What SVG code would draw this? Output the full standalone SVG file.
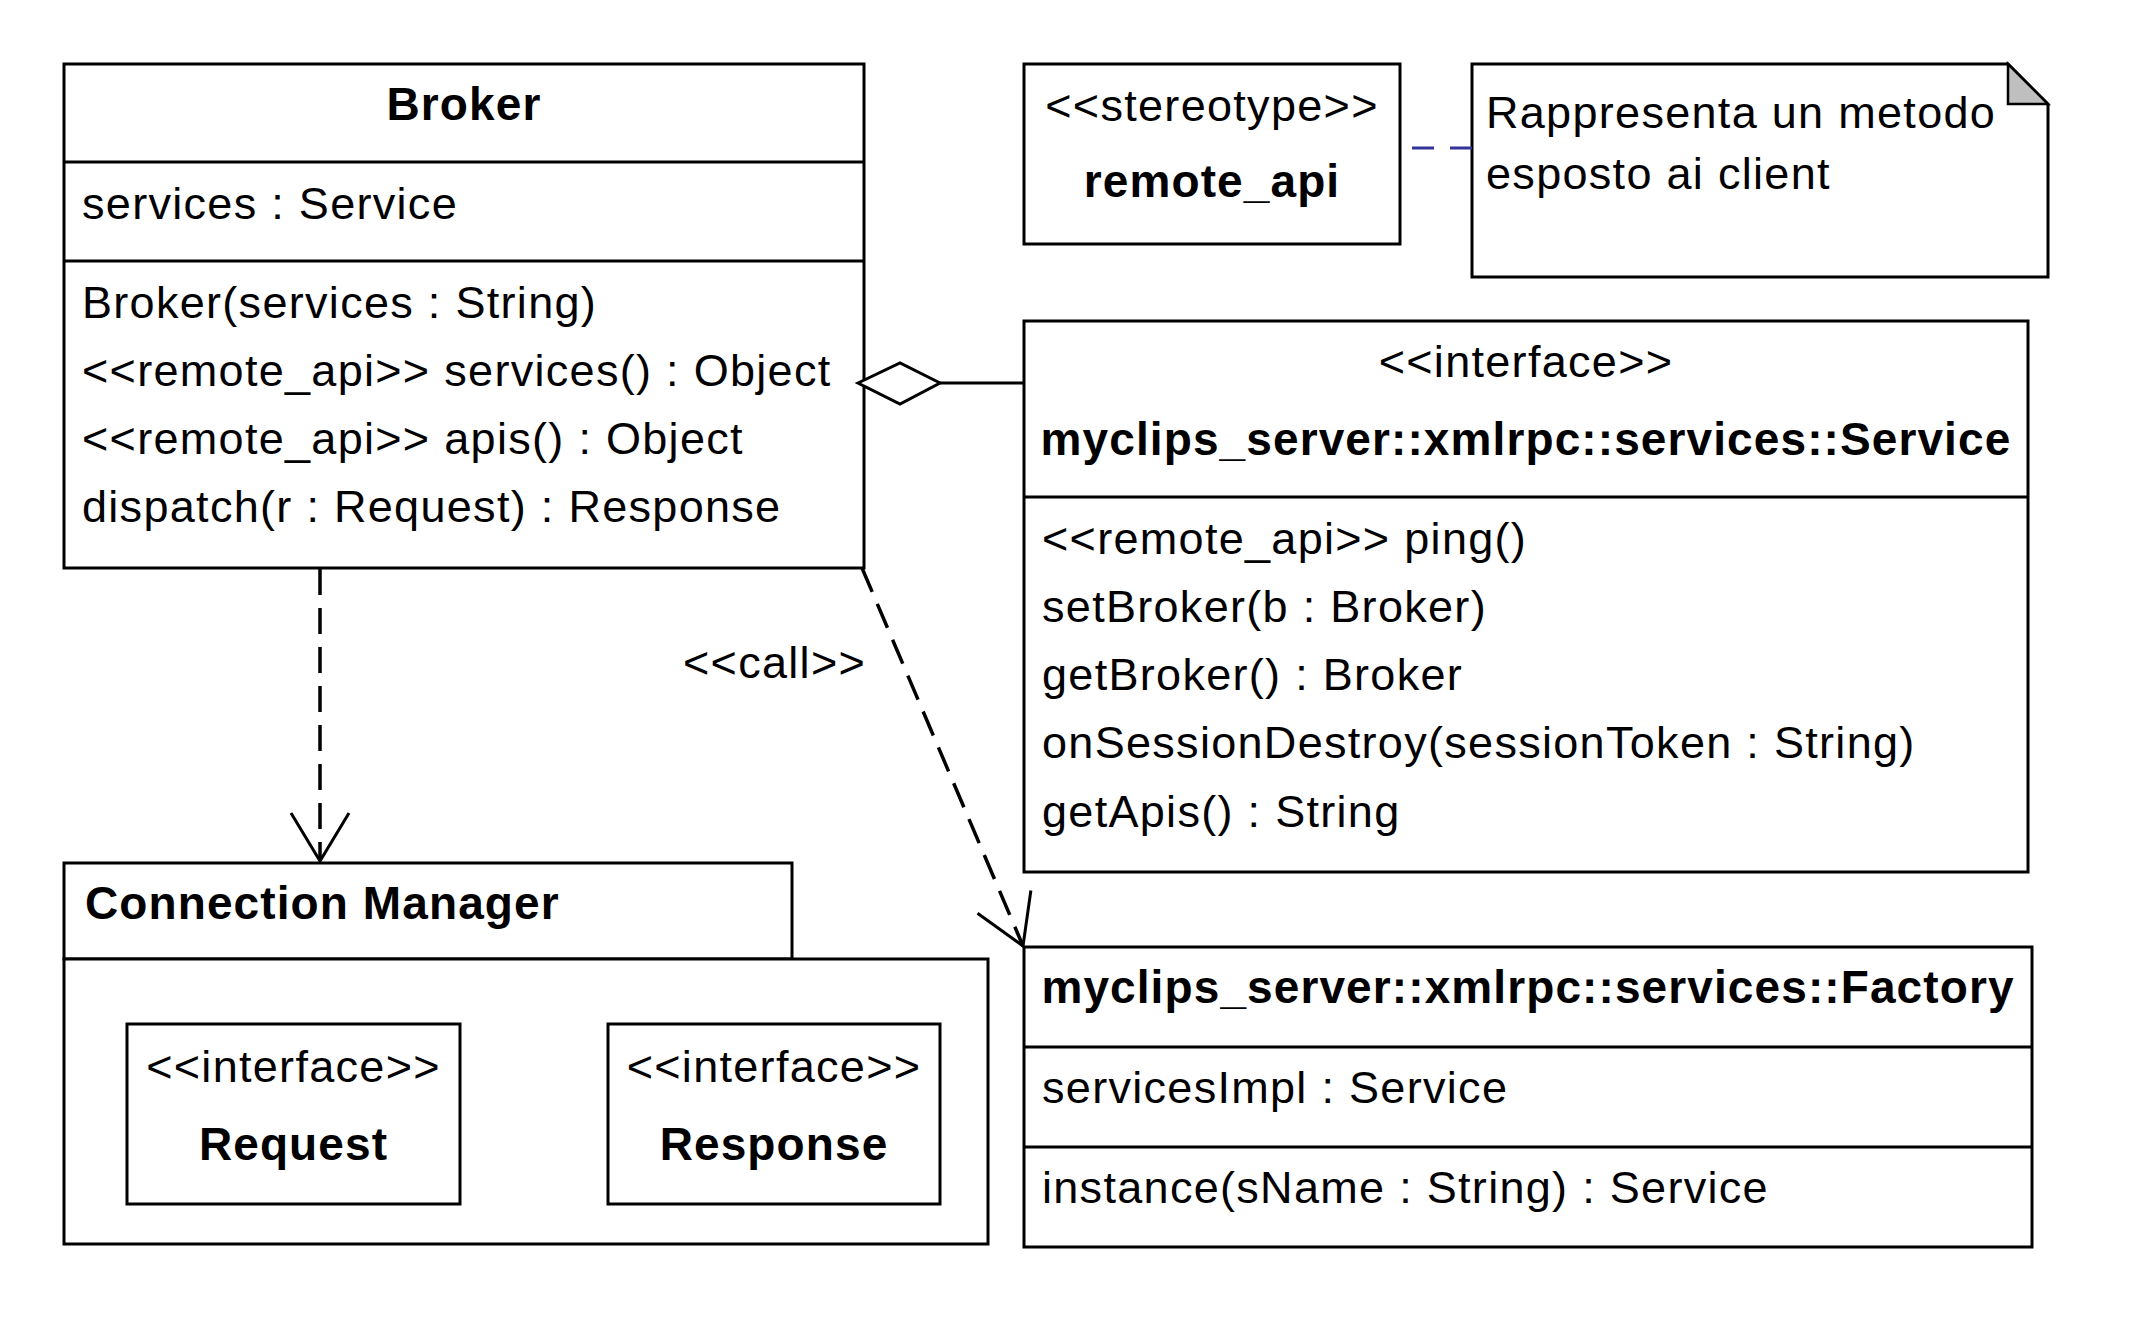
<svg xmlns="http://www.w3.org/2000/svg" width="2140" height="1336" viewBox="0 0 2140 1336">
<style>
  .box { fill: #ffffff; stroke: #000000; stroke-width: 3; }
  .div { stroke: #000000; stroke-width: 3; fill: none; }
  .t { font-family: "Liberation Sans", Arial, sans-serif; font-size: 45px; letter-spacing: 1.3px; fill: #000000; }
  .b { font-family: "Liberation Sans", Arial, sans-serif; font-size: 46px; font-weight: bold; letter-spacing: 1.1px; fill: #000000; }
  .c { text-anchor: middle; }
  .dash { stroke: #000000; stroke-width: 3.5; fill: none; stroke-dasharray: 26 13; }
  .solid { stroke: #000000; stroke-width: 3; fill: none; }
</style>
<defs>
  <marker id="open" markerUnits="userSpaceOnUse" orient="auto" refX="0" refY="0" markerWidth="60" markerHeight="70" viewBox="-55 -35 60 70" overflow="visible">
    <path d="M-48,-29 L0,0 L-48,29" fill="none" stroke="#000000" stroke-width="3" stroke-dasharray="none"/>
  </marker>
</defs>
<rect x="0" y="0" width="2140" height="1336" fill="#ffffff"/>

<g id="broker">
  <rect class="box" x="64" y="64" width="800" height="504"/>
  <line class="div" x1="64" y1="162" x2="864" y2="162"/>
  <line class="div" x1="64" y1="261" x2="864" y2="261"/>
  <text class="b c" x="464" y="120">Broker</text>
  <text class="t" x="82" y="219">services : Service</text>
  <text class="t" x="82" y="318">Broker(services : String)</text>
  <text class="t" x="82" y="386">&lt;&lt;remote_api&gt;&gt; services() : Object</text>
  <text class="t" x="82" y="454">&lt;&lt;remote_api&gt;&gt; apis() : Object</text>
  <text class="t" x="82" y="522">dispatch(r : Request) : Response</text>
</g>

<g id="stereotype-remote_api">
  <rect class="box" x="1024" y="64" width="376" height="180"/>
  <text class="t c" x="1212" y="121">&lt;&lt;stereotype&gt;&gt;</text>
  <text class="b c" x="1212" y="197">remote_api</text>
</g>

<g id="note">
  <path class="box" d="M1472,64 L2008,64 L2048,104 L2048,277 L1472,277 Z"/>
  <path d="M2008,64 L2048,104 L2008,104 Z" fill="#bfbfbf" stroke="#000000" stroke-width="2.5" stroke-linejoin="miter"/>
  <text class="t" x="1486" y="128">Rappresenta un metodo</text>
  <text class="t" x="1486" y="189">esposto ai client</text>
</g>

<g id="service">
  <rect class="box" x="1024" y="321" width="1004" height="551"/>
  <line class="div" x1="1024" y1="497" x2="2028" y2="497"/>
  <text class="t c" x="1526" y="377">&lt;&lt;interface&gt;&gt;</text>
  <text class="b c" x="1526" y="455">myclips_server::xmlrpc::services::Service</text>
  <text class="t" x="1042" y="554">&lt;&lt;remote_api&gt;&gt; ping()</text>
  <text class="t" x="1042" y="622">setBroker(b : Broker)</text>
  <text class="t" x="1042" y="690">getBroker() : Broker</text>
  <text class="t" x="1042" y="758">onSessionDestroy(sessionToken : String)</text>
  <text class="t" x="1042" y="827">getApis() : String</text>
</g>

<g id="factory">
  <rect class="box" x="1024" y="947" width="1008" height="300"/>
  <line class="div" x1="1024" y1="1047" x2="2032" y2="1047"/>
  <line class="div" x1="1024" y1="1147" x2="2032" y2="1147"/>
  <text class="b c" x="1528" y="1003">myclips_server::xmlrpc::services::Factory</text>
  <text class="t" x="1042" y="1103">servicesImpl : Service</text>
  <text class="t" x="1042" y="1203">instance(sName : String) : Service</text>
</g>

<g id="connection-manager">
  <rect class="box" x="64" y="863" width="728" height="96"/>
  <rect class="box" x="64" y="959" width="924" height="285"/>
  <text class="b" x="85" y="919">Connection Manager</text>
  <g id="request">
    <rect class="box" x="127" y="1024" width="333" height="180"/>
    <text class="t c" x="293.5" y="1082">&lt;&lt;interface&gt;&gt;</text>
    <text class="b c" x="293.5" y="1160">Request</text>
  </g>
  <g id="response">
    <rect class="box" x="608" y="1024" width="332" height="180"/>
    <text class="t c" x="774" y="1082">&lt;&lt;interface&gt;&gt;</text>
    <text class="b c" x="774" y="1160">Response</text>
  </g>
</g>

<g id="connectors">
  <line class="dash" x1="320" y1="569" x2="320" y2="861" marker-end="url(#open)"/>
  <line class="dash" x1="862" y1="568" x2="1023" y2="946" marker-end="url(#open)"/>
  <polygon points="858,383 900,363 940,383 900,404" fill="#ffffff" stroke="#000000" stroke-width="3"/>
  <line class="solid" x1="940" y1="383" x2="1024" y2="383"/>
  <line x1="1412" y1="148" x2="1472" y2="148" stroke="#333399" stroke-width="3" stroke-dasharray="22 16"/>
  <text class="t" x="683" y="678">&lt;&lt;call&gt;&gt;</text>
</g>
</svg>
